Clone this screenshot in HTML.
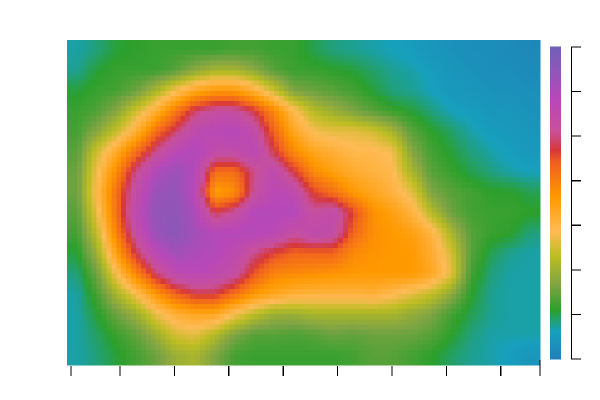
<!DOCTYPE html>
<html><head><meta charset="utf-8"><style>
html,body{margin:0;padding:0;background:#fff;width:600px;height:400px;overflow:hidden;font-family:"Liberation Sans",sans-serif}
</style></head><body>
<svg id="chart" width="600" height="400" xmlns="http://www.w3.org/2000/svg" shape-rendering="crispEdges">
<g id="cells"></g>
<g id="xaxis"></g>
<g id="cbar"></g>
</svg>
<script>
const values = [
[10,12,15,16,17,17,17,17,18,18,17,17,14,12,11,10,9,8,6,5,4,4,3,2],
[11,15,17,17,17,20,26,30,30,26,20,17,17,16,15,13,11,10,8,6,5,4,4,3],
[15,17,18,22,30,40,48,52,52,45,35,24,22,20,18,15,12,11,9,7,6,5,5,4],
[17,19,25,35,45,58,70,75,75,68,55,42,32,28,24,20,17,15,12,9,8,6,6,5],
[18,25,34,45,60,70,80,82,84,78,62,48,40,38,38,36,30,20,16,13,10,8,7,6],
[20,35,47,60,72,82,85,78,78,82,68,55,48,45,42,42,40,25,18,15,12,10,8,7],
[22,39,55,72,85,90,84,60,60,72,80,68,55,50,46,44,42,30,20,17,14,12,10,9],
[22,41,60,77,90,92,82,50,54,74,82,80,66,60,52,48,44,38,24,20,18,16,16,14],
[20,38,60,80,92,93,86,68,74,84,84,84,74,78,66,54,50,44,32,22,18,17,17,16],
[18,33,57,76,90,94,88,84,84,84,82,75,80,78,62,54,52,50,44,30,20,17,16,12],
[15,28,50,68,82,88,86,84,80,72,66,62,62,62,55,53,52,52,46,36,20,14,11,10],
[12,22,40,56,70,80,82,80,76,64,56,55,54,53,52,52,52,52,48,38,18,12,10,10],
[10,18,30,40,52,62,68,68,60,52,48,45,44,44,44,45,42,38,34,26,16,11,10,10],
[10,15,22,28,38,45,48,48,40,33,28,28,30,30,30,30,30,27,24,18,14,11,10,10],
[10,13,17,21,28,36,38,32,24,20,20,19,20,22,21,22,22,22,20,16,12,10,10,10],
[10,12,15,18,22,28,30,24,18,17,17,17,17,17,18,20,20,18,16,13,11,10,8,6]
];
const xTickValues = [1,10,20,30,40,50,60,70,80];
const cbarTickValues = [0,1,2,3,4,5,6,7];
const stopPos = [0,0.09,0.157,0.24,0.33,0.41,0.52,0.63,0.67,0.73,0.83,1];
const stopCol = ["#2080b8","#17a0bc","#2ca02c","#7fa444","#bcbd22","#ffbb55","#ff9900","#f06020","#d63838","#c8509a","#b848b8","#7060b8"];

const NS="http://www.w3.org/2000/svg";
function mk(tag,attrs,parent){const e=document.createElementNS(NS,tag);for(const k in attrs)e.setAttribute(k,attrs[k]);parent.appendChild(e);return e;}
function hex(c){return [parseInt(c.slice(1,3),16),parseInt(c.slice(3,5),16),parseInt(c.slice(5,7),16)];}
function colorAt(t){t=Math.max(0,Math.min(1,t));for(let i=1;i<stopPos.length;i++){if(t<=stopPos[i]){const f=(t-stopPos[i-1])/(stopPos[i]-stopPos[i-1]);const a=hex(stopCol[i-1]),b=hex(stopCol[i]);return "rgb("+a.map((v,k)=>Math.round(v+(b[k]-v)*f)).join(",")+")";}}return stopCol[stopCol.length-1];}
const vMin=0,vMax=100;
const nRows=values.length,nCols=values[0].length;
const px0=67,px1=540,py0=40,py1=365;
const cScale=v=>(v-vMin)/(vMax-vMin);
function sample(u,v){
  let x=Math.max(0,Math.min(nCols-1,u-0.5)), y=Math.max(0,Math.min(nRows-1,v-0.5));
  const x0=Math.floor(x),y0=Math.floor(y),x1=Math.min(nCols-1,x0+1),y1=Math.min(nRows-1,y0+1);
  const fx=x-x0,fy=y-y0;
  return values[y0][x0]*(1-fx)*(1-fy)+values[y0][x1]*fx*(1-fy)+values[y1][x0]*(1-fx)*fy+values[y1][x1]*fx*fy;
}
const SUB=4;
const nX=nCols*SUB,nY=nRows*SUB;
const sw=(px1-px0)/nX, sh=(py1-py0)/nY;
const g=document.getElementById('cells');
for(let r=0;r<nY;r++){for(let c=0;c<nX;c++){
  const val=sample((c+0.5)/SUB,(r+0.5)/SUB);
  const rect=mk('rect',{x:(px0+c*sw).toFixed(2),y:(py0+r*sh).toFixed(2),width:(sw+0.6).toFixed(2),height:(sh+0.6).toFixed(2),fill:colorAt(cScale(val))},g);
  
  
}}
const xa=document.getElementById('xaxis');
const xTick=v=>120+5.44*(v-10);
xTickValues.forEach(v=>{const t=mk('line',{x1:xTick(v),x2:xTick(v),y1:366,y2:376,stroke:"#000","stroke-width":1.2},xa);
  
  });
const endT=mk('line',{x1:540,x2:540,y1:360,y2:376,stroke:"#000","stroke-width":1.2},xa);


const cb=document.getElementById('cbar');
const cbTop=47,cbBot=359,nSeg=120;
for(let i=0;i<nSeg;i++){const t0=i/nSeg;const y=cbBot-(cbBot-cbTop)*(i+1)/nSeg;
  const s=mk('rect',{x:550,y:y-0.3,width:11,height:(cbBot-cbTop)/nSeg+0.6,fill:colorAt(t0+0.5/nSeg)},cb);
  
  }
const axl=mk('line',{x1:571.5,x2:571.5,y1:cbTop,y2:cbBot,stroke:"#000","stroke-width":1.2},cb);


cbarTickValues.forEach(v=>{const y=cbBot-(cbBot-cbTop)*v/7;const t=mk('line',{x1:571,x2:581,y1:y,y2:y,stroke:"#000","stroke-width":1.2},cb);
  
  });
</script>
</body></html>
